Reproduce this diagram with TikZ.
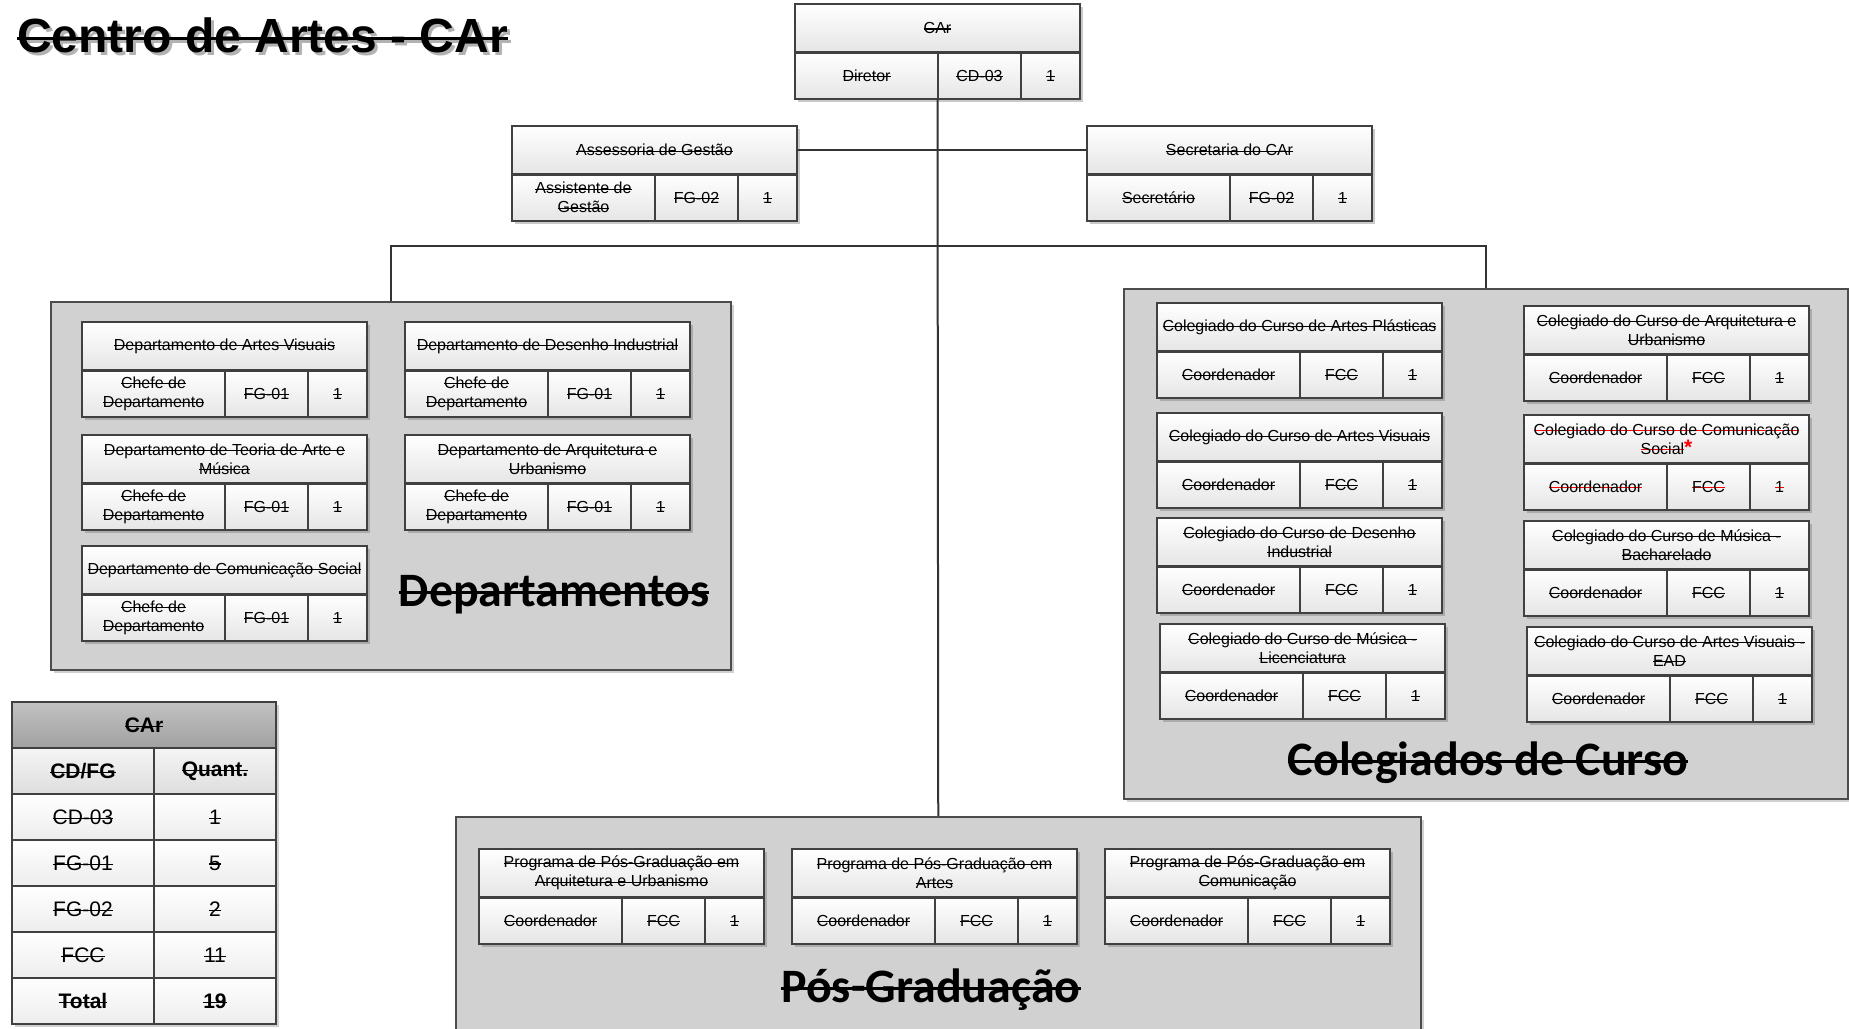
\documentclass[tikz,border=0pt]{standalone}
\usepackage{fontspec}
\setmainfont{Liberation Sans}
\newfontfamily\calibri{Carlito}
\usetikzlibrary{shadows}

\newcommand{\corrisco}{.}
\newcommand{\rs}[1]{\leavevmode\setbox0=\hbox{#1}\rlap{\textcolor{\corrisco}{\rule[0.25em]{\wd0}{0.07em}}}\box0}
\newcommand{\unidade}[7]{%
	\node[cabec, anchor=north west] (#1) at (#2,#3) {#4};
	\node[celula, minimum width=143pt, anchor=north west] (#1-a) at (#1.south west) {#5};
	\node[celula, minimum width=83pt, anchor=north west] (#1-b) at (#1-a.north east) {\rs{#6}};
	\node[celula, minimum width=59pt, anchor=north west] (#1-c) at (#1-b.north east) {\rs{#7}};
	\draw[divisor] (#1.south west) -- (#1.south east);
}

\begin{document}
\begin{tikzpicture}[
		x=1pt, y=-1pt,
		cabec/.style={draw=black!75, line width=1.2pt, top color=white, bottom color=black!10, minimum width=285pt, minimum height=48pt, inner sep=1pt, outer sep=0pt, align=center, font=\fontsize{16}{19}\selectfont, drop shadow={shadow xshift=3pt, shadow yshift=-3pt, opacity=0.35, fill=black!60}},
		celula/.style={cabec, minimum height=47pt},
		divisor/.style={draw=black!75, line width=3pt},
		painel/.style={draw=black!70, line width=1.5pt, fill=black!18, drop shadow={shadow xshift=3pt, shadow yshift=-3pt, opacity=0.3, fill=black!60}},
		rotulo/.style={font=\calibri\bfseries\fontsize{48}{56}\selectfont, inner sep=0pt},
		titulo/.style={font=\bfseries\fontsize{48}{56}\selectfont, inner sep=0pt},
		liga/.style={draw=black!80, line width=2pt},
		tabcel/.style={draw=black!75, line width=1.5pt, top color=white, bottom color=black!7, minimum height=46pt, inner sep=1pt, outer sep=0pt, font=\fontsize{21}{24}\selectfont, drop shadow={shadow xshift=3pt, shadow yshift=-3pt, opacity=0.3, fill=black!60}},
		tabsub/.style={tabcel, top color=black!4, bottom color=black!13, font=\bfseries\fontsize{21}{24}\selectfont},
		tabcab/.style={tabcel, top color=black!24, bottom color=black!37, font=\bfseries\fontsize{21}{24}\selectfont},
		]
		\fill[white] (0,0) rectangle (1849,1028);
		\useasboundingbox (0,0) rectangle (1849,1028);

		\node[titulo, anchor=base west, text=black!30] (tit-sombra) at (20,55) {\rs{Centro de Artes - CAr}};
		\node[titulo, anchor=base west] (tit) at (17,52) {\rs{Centro de Artes - CAr}};

		\node[painel, minimum width=680pt, minimum height=368pt, anchor=north west] (dep) at (50,301) {};
		\node[painel, minimum width=724pt, minimum height=510pt, anchor=north west] (col) at (1123,288) {};
		\node[painel, minimum width=965pt, minimum height=240pt, anchor=north west] (pos) at (455,816) {};
		\node[rotulo, anchor=base] (dep-rot) at (554,606) {\rs{Departamentos}};
		\node[rotulo, anchor=base] (col-rot) at (1488,775) {\rs{Colegiados de Curso}};
		\node[rotulo, anchor=base] (pos-rot) at (931,1002) {\rs{Pós-Graduação}};

		\unidade{car}{795}{4}{\rs{CAr}}{\rs{Diretor}}{CD-03}{1}
		\unidade{ases}{512}{126}{\rs{Assessoria de Gestão}}{\rs{Assistente de}\\\rs{Gestão}}{FG-02}{1}
		\unidade{sec}{1087}{126}{\rs{Secretaria do CAr}}{\rs{Secretário}}{FG-02}{1}

		\unidade{dav}{82}{322}{\rs{Departamento de Artes Visuais}}{\rs{Chefe de}\\\rs{Departamento}}{FG-01}{1}
		\unidade{ddi}{405}{322}{\rs{Departamento de Desenho Industrial}}{\rs{Chefe de}\\\rs{Departamento}}{FG-01}{1}
		\unidade{dtam}{82}{435}{\rs{Departamento de Teoria de Arte e}\\\rs{Música}}{\rs{Chefe de}\\\rs{Departamento}}{FG-01}{1}
		\unidade{dau}{405}{435}{\rs{Departamento de Arquitetura e}\\\rs{Urbanismo}}{\rs{Chefe de}\\\rs{Departamento}}{FG-01}{1}
		\unidade{dcs}{82}{546}{\rs{Departamento de Comunicação Social}}{\rs{Chefe de}\\\rs{Departamento}}{FG-01}{1}

		\unidade{cap}{1157}{303}{\rs{Colegiado do Curso de Artes Plásticas}}{\rs{Coordenador}}{FCC}{1}
		\unidade{cav}{1157}{413}{\rs{Colegiado do Curso de Artes Visuais}}{\rs{Coordenador}}{FCC}{1}
		\unidade{cdi}{1157}{518}{\rs{Colegiado do Curso de Desenho}\\\rs{Industrial}}{\rs{Coordenador}}{FCC}{1}
		\unidade{cml}{1160}{624}{\rs{Colegiado do Curso de Música -}\\\rs{Licenciatura}}{\rs{Coordenador}}{FCC}{1}
		\unidade{cau}{1524}{306}{\rs{Colegiado do Curso de Arquitetura e}\\\rs{Urbanismo}}{\rs{Coordenador}}{FCC}{1}
		\begin{scope}
			\renewcommand{\corrisco}{red}
			\unidade{ccs}{1524}{415}{\rs{Colegiado do Curso de Comunicação}\\\rs{Social}{\color{red}\bfseries\fontsize{21}{19}\selectfont*}}{\rs{Coordenador}}{FCC}{1}
		\end{scope}
		\unidade{cmb}{1524}{521}{\rs{Colegiado do Curso de Música -}\\\rs{Bacharelado}}{\rs{Coordenador}}{FCC}{1}
		\unidade{cavd}{1527}{627}{\rs{Colegiado do Curso de Artes Visuais -}\\\rs{EAD}}{\rs{Coordenador}}{FCC}{1}

		\unidade{ppau}{479}{849}{\rs{Programa de Pós-Graduação em}\\\rs{Arquitetura e Urbanismo}}{\rs{Coordenador}}{FCC}{1}
		\unidade{ppa}{792}{849}{\rs{Programa de Pós-Graduação em}\\\rs{Artes}}{\rs{Coordenador}}{FCC}{1}
		\unidade{ppc}{1105}{849}{\rs{Programa de Pós-Graduação em}\\\rs{Comunicação}}{\rs{Coordenador}}{FCC}{1}

		\coordinate (ramo) at (937.5,246);
		\draw[liga] (car.center |- car-a.south) -- (pos.north);
		\draw[liga] (ases.east) -- (sec.west);
		\draw[liga] (dep.north) |- (ramo) -| (col.north);

		\node[tabcab, minimum width=264pt, anchor=north west] (tab) at (12,702) {\rs{CAr}};
		\node[tabsub, minimum width=142pt, anchor=north west] (tab-fg) at (tab.south west) {\rs{CD/FG}};
		\node[tabsub, minimum width=122pt, anchor=north west] (tab-qt) at (tab-fg.north east) {\rs{Quant.}};
		\foreach \fg/\q [count=\i] in {CD-03/1, FG-01/5, FG-02/2, FCC/11}{
			\node[tabcel, minimum width=142pt, anchor=north west] (tab-\i-a) at (12,{748+46*\i}) {\rs{\fg}};
			\node[tabcel, minimum width=122pt, anchor=north west] (tab-\i-b) at (tab-\i-a.north east) {\rs{\q}};
		}
		\node[tabcel, minimum width=142pt, anchor=north west, font=\bfseries\fontsize{21}{24}\selectfont] (tab-tot) at (12,978) {\rs{Total}};
		\node[tabcel, minimum width=122pt, anchor=north west, font=\bfseries\fontsize{21}{24}\selectfont] (tab-tot-q) at (tab-tot.north east) {\rs{19}};
	\end{tikzpicture}
\end{document}
